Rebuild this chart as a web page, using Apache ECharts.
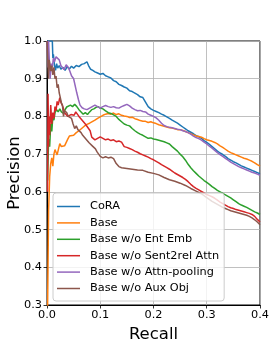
<!DOCTYPE html>
<html>
<head>
<meta charset="utf-8">
<script src="https://cdn.jsdelivr.net/npm/echarts@6/dist/echarts.min.js"></script>
<style>
html,body{margin:0;padding:0;background:#fff;}
#chart{width:275px;height:343px;}
</style>
</head>
<body>
<div id="chart"></div>
<script>
// ---- data: [recall, precision] pairs ----
const seriesNames = ["CoRA", "Base", "Base w/o Ent Emb", "Base w/o Sent2rel Attn", "Base w/o Attn-pooling", "Base w/o Aux Obj"];
const xTicks = [0.0, 0.1, 0.2, 0.3, 0.4];
const yTicks = [0.3, 0.4, 0.5, 0.6, 0.7, 0.8, 0.9, 1.0];

const cora = [[0.000,1.0],[0.010,1.0],[0.011,0.955],[0.012,0.965],[0.014,0.935],[0.016,0.922],[0.018,0.94],[0.020,0.928],[0.023,0.935],[0.026,0.925],[0.030,0.93],[0.034,0.922],[0.038,0.932],[0.042,0.926],[0.046,0.933],[0.050,0.928],[0.055,0.935],[0.060,0.932],[0.065,0.938],[0.070,0.94],[0.075,0.945],[0.078,0.935],[0.082,0.925],[0.086,0.922],[0.090,0.918],[0.095,0.915],[0.100,0.912],[0.105,0.914],[0.110,0.908],[0.115,0.905],[0.120,0.902],[0.125,0.895],[0.130,0.892],[0.135,0.885],[0.140,0.882],[0.145,0.878],[0.150,0.875],[0.155,0.868],[0.160,0.866],[0.165,0.862],[0.170,0.858],[0.175,0.852],[0.180,0.850],[0.185,0.838],[0.190,0.826],[0.195,0.820],[0.200,0.816],[0.205,0.813],[0.210,0.810],[0.215,0.806],[0.220,0.803],[0.225,0.799],[0.230,0.795],[0.235,0.790],[0.240,0.786],[0.245,0.782],[0.250,0.777],[0.255,0.772],[0.260,0.767],[0.265,0.762],[0.270,0.758],[0.275,0.754],[0.280,0.749],[0.285,0.746],[0.290,0.742],[0.295,0.736],[0.300,0.731],[0.305,0.726],[0.310,0.720],[0.315,0.714],[0.320,0.708],[0.325,0.703],[0.330,0.699],[0.335,0.694],[0.340,0.688],[0.345,0.684],[0.350,0.680],[0.355,0.677],[0.360,0.673],[0.365,0.669],[0.370,0.666],[0.375,0.663],[0.380,0.660],[0.385,0.657],[0.390,0.654],[0.395,0.651],[0.400,0.648]];

const base = [[0.001,0.28],[0.003,0.55],[0.005,0.64],[0.007,0.675],[0.009,0.69],[0.011,0.668],[0.013,0.70],[0.015,0.712],[0.017,0.705],[0.019,0.698],[0.021,0.71],[0.024,0.728],[0.027,0.72],[0.030,0.716],[0.033,0.722],[0.036,0.72],[0.039,0.74],[0.042,0.748],[0.045,0.745],[0.050,0.75],[0.055,0.757],[0.060,0.762],[0.065,0.768],[0.070,0.774],[0.075,0.779],[0.080,0.782],[0.085,0.786],[0.090,0.79],[0.095,0.795],[0.100,0.799],[0.105,0.803],[0.110,0.806],[0.115,0.808],[0.120,0.806],[0.125,0.809],[0.130,0.805],[0.135,0.807],[0.140,0.803],[0.145,0.801],[0.150,0.800],[0.155,0.797],[0.160,0.798],[0.165,0.794],[0.170,0.792],[0.175,0.789],[0.180,0.787],[0.185,0.787],[0.190,0.784],[0.195,0.786],[0.200,0.783],[0.205,0.781],[0.210,0.778],[0.215,0.776],[0.220,0.774],[0.225,0.772],[0.230,0.770],[0.235,0.769],[0.240,0.767],[0.245,0.765],[0.250,0.765],[0.255,0.763],[0.260,0.760],[0.265,0.757],[0.270,0.754],[0.275,0.751],[0.280,0.748],[0.285,0.747],[0.290,0.745],[0.295,0.741],[0.300,0.738],[0.305,0.736],[0.310,0.734],[0.315,0.731],[0.320,0.727],[0.325,0.722],[0.330,0.718],[0.335,0.713],[0.340,0.708],[0.345,0.704],[0.350,0.701],[0.355,0.698],[0.360,0.695],[0.365,0.692],[0.370,0.689],[0.375,0.687],[0.380,0.684],[0.385,0.681],[0.390,0.677],[0.395,0.672],[0.400,0.668]];

const noEntEmb = [[0.001,0.63],[0.002,0.68],[0.003,0.74],[0.005,0.72],[0.007,0.78],[0.009,0.76],[0.011,0.80],[0.013,0.79],[0.015,0.81],[0.018,0.818],[0.021,0.812],[0.024,0.82],[0.027,0.812],[0.031,0.808],[0.034,0.818],[0.037,0.825],[0.040,0.822],[0.044,0.83],[0.048,0.826],[0.052,0.832],[0.056,0.826],[0.060,0.818],[0.064,0.812],[0.068,0.806],[0.072,0.81],[0.076,0.805],[0.080,0.812],[0.084,0.818],[0.088,0.82],[0.092,0.824],[0.096,0.826],[0.100,0.822],[0.105,0.82],[0.110,0.815],[0.115,0.81],[0.120,0.808],[0.125,0.804],[0.130,0.800],[0.135,0.792],[0.140,0.786],[0.145,0.780],[0.150,0.777],[0.155,0.775],[0.160,0.768],[0.165,0.762],[0.170,0.757],[0.175,0.753],[0.180,0.750],[0.185,0.746],[0.190,0.742],[0.195,0.743],[0.200,0.740],[0.205,0.739],[0.210,0.737],[0.215,0.735],[0.220,0.733],[0.225,0.730],[0.230,0.727],[0.235,0.720],[0.240,0.714],[0.245,0.708],[0.250,0.700],[0.255,0.693],[0.260,0.684],[0.265,0.673],[0.270,0.664],[0.275,0.656],[0.280,0.649],[0.285,0.642],[0.290,0.636],[0.295,0.630],[0.300,0.625],[0.305,0.620],[0.310,0.614],[0.315,0.609],[0.320,0.604],[0.325,0.600],[0.330,0.596],[0.335,0.592],[0.340,0.588],[0.345,0.584],[0.350,0.579],[0.355,0.574],[0.360,0.569],[0.365,0.565],[0.370,0.562],[0.375,0.559],[0.380,0.555],[0.385,0.551],[0.390,0.547],[0.395,0.544],[0.400,0.540]];

const noSent2rel = [[0.001,0.60],[0.002,0.86],[0.003,0.72],[0.004,0.80],[0.005,0.75],[0.007,0.83],[0.009,0.78],[0.011,0.81],[0.013,0.795],[0.015,0.826],[0.017,0.815],[0.019,0.84],[0.021,0.83],[0.024,0.85],[0.026,0.838],[0.028,0.843],[0.030,0.825],[0.033,0.81],[0.036,0.815],[0.039,0.80],[0.042,0.797],[0.045,0.805],[0.048,0.81],[0.051,0.803],[0.054,0.812],[0.057,0.806],[0.060,0.80],[0.063,0.795],[0.066,0.79],[0.069,0.785],[0.072,0.78],[0.075,0.775],[0.078,0.768],[0.081,0.762],[0.084,0.745],[0.087,0.74],[0.090,0.738],[0.095,0.742],[0.100,0.746],[0.105,0.742],[0.110,0.738],[0.115,0.74],[0.120,0.736],[0.125,0.738],[0.130,0.733],[0.135,0.735],[0.140,0.732],[0.145,0.72],[0.150,0.718],[0.155,0.715],[0.160,0.712],[0.165,0.708],[0.170,0.705],[0.175,0.701],[0.180,0.698],[0.185,0.695],[0.190,0.692],[0.195,0.688],[0.200,0.685],[0.205,0.681],[0.210,0.677],[0.215,0.672],[0.220,0.668],[0.225,0.664],[0.230,0.660],[0.235,0.655],[0.240,0.650],[0.245,0.646],[0.250,0.642],[0.255,0.638],[0.260,0.633],[0.265,0.627],[0.270,0.620],[0.275,0.614],[0.280,0.609],[0.285,0.605],[0.290,0.601],[0.295,0.597],[0.300,0.593],[0.305,0.590],[0.310,0.587],[0.315,0.583],[0.320,0.578],[0.325,0.573],[0.330,0.569],[0.335,0.565],[0.340,0.561],[0.345,0.558],[0.350,0.556],[0.355,0.553],[0.360,0.551],[0.365,0.549],[0.370,0.547],[0.375,0.545],[0.380,0.543],[0.385,0.540],[0.390,0.535],[0.395,0.527],[0.400,0.520]];

const noAttnPool = [[0.000,1.0],[0.001,1.0],[0.002,0.93],[0.003,1.0],[0.004,0.96],[0.006,0.90],[0.008,0.94],[0.010,0.93],[0.012,0.955],[0.014,0.945],[0.017,0.958],[0.020,0.963],[0.023,0.95],[0.026,0.935],[0.029,0.94],[0.032,0.924],[0.036,0.937],[0.040,0.93],[0.043,0.92],[0.046,0.908],[0.050,0.9],[0.053,0.895],[0.056,0.862],[0.059,0.845],[0.062,0.83],[0.066,0.823],[0.070,0.82],[0.075,0.818],[0.080,0.822],[0.085,0.826],[0.090,0.83],[0.095,0.826],[0.100,0.822],[0.105,0.826],[0.110,0.829],[0.115,0.826],[0.120,0.824],[0.125,0.826],[0.130,0.823],[0.135,0.822],[0.140,0.826],[0.145,0.829],[0.150,0.832],[0.155,0.828],[0.160,0.822],[0.165,0.818],[0.170,0.815],[0.175,0.816],[0.180,0.813],[0.185,0.812],[0.190,0.806],[0.195,0.803],[0.200,0.800],[0.205,0.796],[0.210,0.790],[0.215,0.782],[0.220,0.776],[0.225,0.773],[0.230,0.771],[0.235,0.770],[0.240,0.768],[0.245,0.766],[0.250,0.765],[0.255,0.762],[0.260,0.760],[0.265,0.757],[0.270,0.753],[0.275,0.748],[0.280,0.744],[0.285,0.741],[0.290,0.737],[0.295,0.732],[0.300,0.727],[0.305,0.721],[0.310,0.716],[0.315,0.710],[0.320,0.704],[0.325,0.699],[0.330,0.694],[0.335,0.689],[0.340,0.684],[0.345,0.679],[0.350,0.675],[0.355,0.671],[0.360,0.667],[0.365,0.664],[0.370,0.661],[0.375,0.658],[0.380,0.655],[0.385,0.652],[0.390,0.650],[0.395,0.647],[0.400,0.644]];

const noAuxObj = [[0.000,1.0],[0.002,1.0],[0.003,0.90],[0.004,0.95],[0.005,0.942],[0.007,0.92],[0.009,0.935],[0.011,0.91],[0.013,0.93],[0.015,0.90],[0.017,0.907],[0.019,0.876],[0.021,0.885],[0.023,0.862],[0.025,0.85],[0.027,0.836],[0.029,0.83],[0.031,0.80],[0.033,0.815],[0.035,0.81],[0.037,0.81],[0.040,0.80],[0.043,0.805],[0.046,0.795],[0.049,0.78],[0.052,0.768],[0.055,0.775],[0.058,0.765],[0.061,0.76],[0.064,0.757],[0.067,0.75],[0.070,0.745],[0.073,0.74],[0.076,0.736],[0.079,0.73],[0.082,0.728],[0.085,0.722],[0.088,0.72],[0.091,0.714],[0.094,0.706],[0.097,0.70],[0.100,0.694],[0.105,0.69],[0.110,0.693],[0.115,0.69],[0.120,0.692],[0.125,0.688],[0.130,0.675],[0.135,0.667],[0.140,0.664],[0.150,0.662],[0.160,0.660],[0.170,0.658],[0.180,0.657],[0.190,0.652],[0.200,0.649],[0.210,0.645],[0.220,0.638],[0.230,0.632],[0.240,0.628],[0.250,0.623],[0.260,0.617],[0.270,0.609],[0.280,0.602],[0.290,0.595],[0.300,0.585],[0.310,0.575],[0.315,0.571],[0.320,0.567],[0.325,0.563],[0.330,0.559],[0.335,0.556],[0.340,0.553],[0.345,0.550],[0.350,0.548],[0.355,0.546],[0.360,0.544],[0.365,0.542],[0.370,0.540],[0.375,0.538],[0.380,0.535],[0.385,0.531],[0.390,0.526],[0.395,0.520],[0.400,0.513]];

const seriesData = [cora, base, noEntEmb, noSent2rel, noAttnPool, noAuxObj];
const colors = ["#1f77b4", "#ff7f0e", "#2ca02c", "#d62728", "#9467bd", "#8c564b"];

const chart = echarts.init(document.getElementById('chart'), null, {renderer: 'canvas'});
const FONT = "DejaVu Sans";
const fmt = v => Number(v).toFixed(1);

chart.setOption({
  animation: false,
  backgroundColor: '#ffffff',
  color: colors,
  textStyle: {fontFamily: FONT},
  grid: {left: 47, right: 15, top: 41, bottom: 38, containLabel: false, outerBoundsMode: 'none',
         show: true, borderColor: '#000', borderWidth: 1, backgroundColor: 'transparent'},
  xAxis: {
    type: 'value', min: xTicks[0], max: xTicks[xTicks.length - 1], interval: 0.1,
    name: 'Recall', nameLocation: 'middle', nameGap: 21, nameMoveOverlap: false,
    nameTextStyle: {fontFamily: FONT, fontSize: 16.5, color: '#000'},
    axisLine: {show: true, lineStyle: {color: '#000', width: 1}},
    axisTick: {show: true, length: 3.5, lineStyle: {color: '#000', width: 0.8}},
    axisLabel: {formatter: fmt, fontFamily: FONT, fontSize: 11.3, color: '#000', margin: 5},
    splitLine: {show: true, lineStyle: {color: '#b0b0b0', width: 0.8}}
  },
  yAxis: {
    type: 'value', min: yTicks[0], max: yTicks[yTicks.length - 1], interval: 0.1,
    name: 'Precision', nameLocation: 'middle', nameGap: 24, nameMoveOverlap: false,
    nameTextStyle: {fontFamily: FONT, fontSize: 16.5, color: '#000'},
    axisLine: {show: true, lineStyle: {color: '#000', width: 1}},
    axisTick: {show: true, length: 3.5, lineStyle: {color: '#000', width: 0.8}},
    axisLabel: {formatter: fmt, fontFamily: FONT, fontSize: 11.3, color: '#000', margin: 5},
    splitLine: {show: true, lineStyle: {color: '#b0b0b0', width: 0.8}}
  },
  legend: {
    orient: 'vertical', left: 53, top: 193,
    icon: 'rect', itemWidth: 23, itemHeight: 1.5, itemGap: 5.4,
    padding: [8, 5, 7, 4],
    backgroundColor: 'rgba(255,255,255,0.8)', borderColor: '#cccccc', borderWidth: 1, borderRadius: 3,
    textStyle: {fontFamily: FONT, fontSize: 11.3, color: '#000', padding: [0, 0, 0, 5]},
    data: seriesNames
  },
  series: seriesNames.map((n, i) => ({
    name: n, type: 'line', data: seriesData[i], showSymbol: false, symbol: 'none',
    clip: true, lineStyle: {width: 1.5, color: colors[i]}, itemStyle: {color: colors[i]}
  }))
});
</script>
</body>
</html>
